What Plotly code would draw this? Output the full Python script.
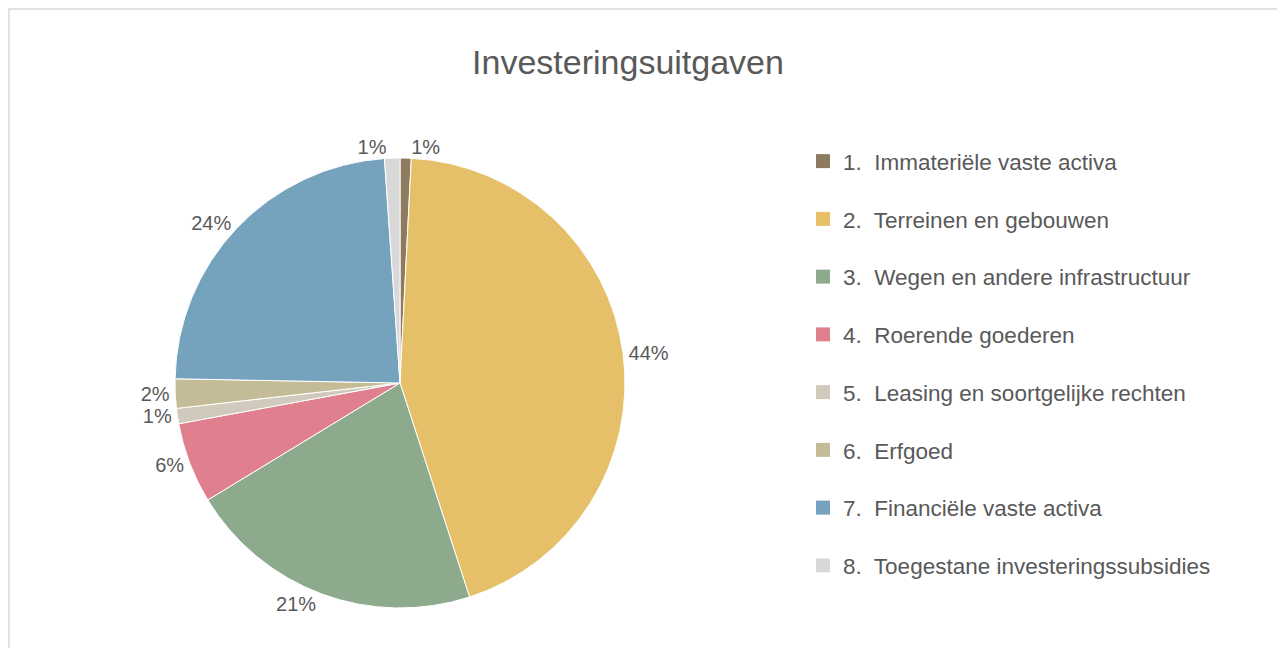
import plotly.graph_objects as go

categories = [
    "1.\u00a0 Immateriële vaste activa",
    "2.\u00a0 Terreinen en gebouwen",
    "3.\u00a0 Wegen en andere infrastructuur",
    "4.\u00a0 Roerende goederen",
    "5.\u00a0 Leasing en soortgelijke rechten",
    "6.\u00a0 Erfgoed",
    "7.\u00a0 Financiële vaste activa",
    "8.\u00a0 Toegestane investeringssubsidies",
]
values = [0.8, 44.2, 21.3, 5.8, 1.1, 2.1, 23.6, 1.1]
colors = ["#8C7B5E", "#E6C068", "#8DAA8C", "#E0808F", "#D1CABC", "#C4BC96", "#75A2BC", "#D8D8D8"]

W, H = 1285, 648
fig = go.Figure()
fig.add_trace(go.Pie(
    labels=categories, values=values, sort=False, direction="clockwise", rotation=0,
    marker=dict(colors=colors, line=dict(color="white", width=1)),
    texttemplate="%{percent:.0%}", textposition="outside",
    textfont=dict(size=20, color="#595959"),
    domain=dict(x=[167 / W, 617 / W], y=[48 / H, 498 / H]),
    showlegend=False, hoverinfo="label+percent",
))
for c, col in zip(categories, colors):
    fig.add_trace(go.Scatter(
        x=[None], y=[None], mode="markers", name=c, legendgroup=c,
        marker=dict(symbol="square", size=14, color=col),
    ))

fig.update_layout(
    width=W, height=H,
    margin=dict(l=0, r=0, t=0, b=0),
    paper_bgcolor="white", plot_bgcolor="white",
    font=dict(family="Liberation Sans, Arial, sans-serif", color="#595959"),
    title=dict(text="Investeringsuitgaven", x=620 / W, xanchor="center",
               y=1 - 54 / H, yanchor="middle",
               font=dict(size=34, color="#595959")),
    xaxis=dict(visible=False), yaxis=dict(visible=False),
    legend=dict(x=795 / W, xanchor="left", y=1 - 132 / H, yanchor="top",
                font=dict(size=22.5, color="#595959"),
                tracegroupgap=25.5, itemclick=False),
    shapes=[dict(type="rect", xref="paper", yref="paper",
                 x0=1 / W, x1=1.01, y0=-0.01, y1=1 - 1 / H,
                 line=dict(color="#D9D9D9", width=1.5))],
)
fig.write_html("out.html")
